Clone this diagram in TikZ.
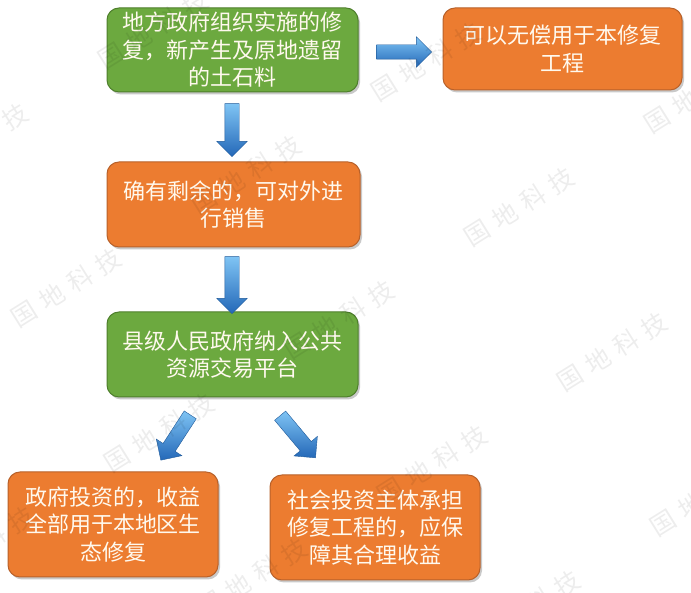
\documentclass[tikz,border=0pt]{standalone}
\usepackage{fontspec}
\setmainfont{Noto Sans CJK SC}
\usetikzlibrary{shapes.arrows,shadows}
\definecolor{boxgreen}{HTML}{6CA93F}
\definecolor{greenedge}{HTML}{4E7F2C}
\definecolor{boxorange}{HTML}{EC7C30}
\definecolor{orangeedge}{HTML}{B8612A}
\definecolor{arrowdark}{HTML}{2468B8}
\definecolor{arrowlight}{HTML}{7FC4F4}
\definecolor{arrowedge}{HTML}{1F5A9A}
\definecolor{txt}{HTML}{FFF9EE}
\begin{document}
\begin{tikzpicture}[x=1pt,y=1pt,
 box/.style={rounded corners=12pt, draw, line width=1pt, text=txt, align=center,
   font=\fontsize{22}{27.5}\selectfont, inner sep=0pt,
   drop shadow={shadow xshift=2pt, shadow yshift=-2.5pt, opacity=0.35, fill=black!60}},
 gbox/.style={box, fill=boxgreen, draw=greenedge},
 obox/.style={box, fill=boxorange, draw=orangeedge},
 barrow/.style={single arrow, draw=arrowedge, line width=0.4pt, inner xsep=0pt, inner ysep=7pt,
   single arrow head extend=8pt, top color=arrowlight, bottom color=arrowdark},
 wm/.style={text=black, opacity=0.07, rotate=32, font=\fontsize{25}{25}\selectfont}
]
\useasboundingbox (0,0) rectangle (691,593);
\fill[white] (0,0) rectangle (691,593);

\node[gbox, minimum width=251pt, minimum height=84pt] (b1) at (232.5,543) {地方政府组织实施的修\\复，新产生及原地遗留\\的土石料};
\node[obox, minimum width=239pt, minimum height=82pt] (b2) at (562.5,544) {可以无偿用于本修复\\工程};
\node[obox, minimum width=253pt, minimum height=85pt] (b3) at (233.5,388.5) {确有剩余的，可对外进\\行销售};
\node[gbox, minimum width=251pt, minimum height=85pt] (b4) at (232.5,238.5) {县级人民政府纳入公共\\资源交易平台};
\node[obox, minimum width=210pt, minimum height=105pt] (b5) at (113,68.5) {政府投资的，收益\\全部用于本地区生\\态修复};
\node[obox, minimum width=210pt, minimum height=105pt] (b6) at (375,65.5) {社会投资主体承担\\修复工程的，应保\\障其合理收益};

\node[barrow, minimum height=55pt] (a12) at (400.5,541) {};
\node[barrow, minimum height=53pt, rotate=-90] (a13) at (232,466.5) {};
\node[barrow, minimum height=57pt, rotate=-90] (a34) at (232,311.5) {};
\node[barrow, minimum height=54pt, rotate=-123] (a45) at (177.5,158.5) {};
\node[barrow, minimum height=55pt, rotate=-50] (a46) at (295.5,159) {};

\foreach \i/\p in {1/{(339,273)},2/{(432,128)},3/{(525,-17)},4/{(246,418)},5/{(153,563)},
  6/{(519,386)},7/{(612,241)},8/{(705,96)},9/{(426,531)},10/{(699,499)},11/{(159,160)},
  12/{(252,15)},13/{(66,305)},14/{(-27,450)},15/{(-21,47)}}
  \node[wm] (w\i) at \p {国\hspace{8pt}地\hspace{8pt}科\hspace{8pt}技};
\end{tikzpicture}
\end{document}
